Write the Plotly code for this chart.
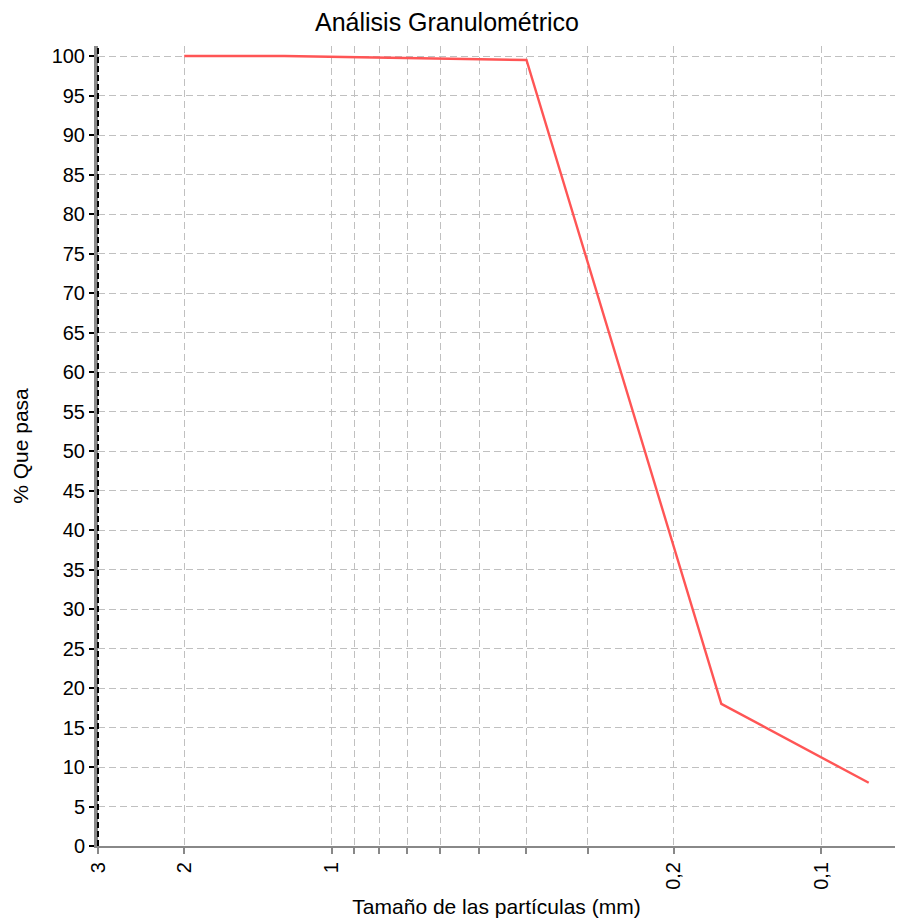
import math
import plotly.graph_objects as go

tamano_mm = [2, 1.25, 0.4, 0.16, 0.08]
pct_pasa = [100, 100, 99.5, 18, 8]

x_tickvals = [3, 2, 1, 0.9, 0.8, 0.7, 0.6, 0.5, 0.4, 0.3, 0.2, 0.1]
x_ticktext = ["3", "2", "1", "", "", "", "", "", "", "", "0,2", "0,1"]
y_tickvals = list(range(0, 101, 5))

FONT = "Liberation Sans, Arial, sans-serif"

fig = go.Figure()
fig.add_trace(go.Scatter(
    x=tamano_mm, y=pct_pasa, mode="lines",
    line=dict(color="#ff5555", width=2.4),
    showlegend=False, hoverinfo="x+y",
))

fig.update_layout(
    width=903, height=921,
    margin=dict(l=90, r=16, t=38, b=83),
    paper_bgcolor="white", plot_bgcolor="white",
    font=dict(family=FONT, size=20, color="black"),
    title=dict(text="Análisis Granulométrico", x=439 / 903, xanchor="center",
               y=1 - 14 / 921, yanchor="middle", font=dict(size=25, color="black")),
    xaxis=dict(
        type="log",
        range=[math.log10(3), math.log10(0.0707)],
        tickmode="array", tickvals=x_tickvals, ticktext=x_ticktext,
        tickangle=-90, ticks="outside", ticklen=6, tickwidth=2, tickcolor="#888888",
        showgrid=True, gridcolor="#c0c0c0", gridwidth=1, griddash="7px,4px",
        showline=True, linecolor="#888888", linewidth=2,
        zeroline=False,
        title=dict(text="Tamaño de las partículas (mm)", standoff=10, font=dict(size=21)),
        tickfont=dict(size=20),
    ),
    yaxis=dict(
        range=[0, 101.27],
        tickmode="array", tickvals=y_tickvals,
        ticks="outside", ticklen=5, tickwidth=2, tickcolor="black",
        showgrid=True, gridcolor="#c0c0c0", gridwidth=1, griddash="7px,4px",
        showline=True, linecolor="#888888", linewidth=4,
        zeroline=False,
        title=dict(text="% Que pasa", standoff=18, font=dict(size=21)),
        tickfont=dict(size=20),
    ),
)

fig.add_shape(type="line", xref="paper", yref="paper", x0=0, x1=0, y0=0, y1=1,
              line=dict(color="black", width=2, dash="6px,3px"), layer="above")

fig.write_html("out.html")
